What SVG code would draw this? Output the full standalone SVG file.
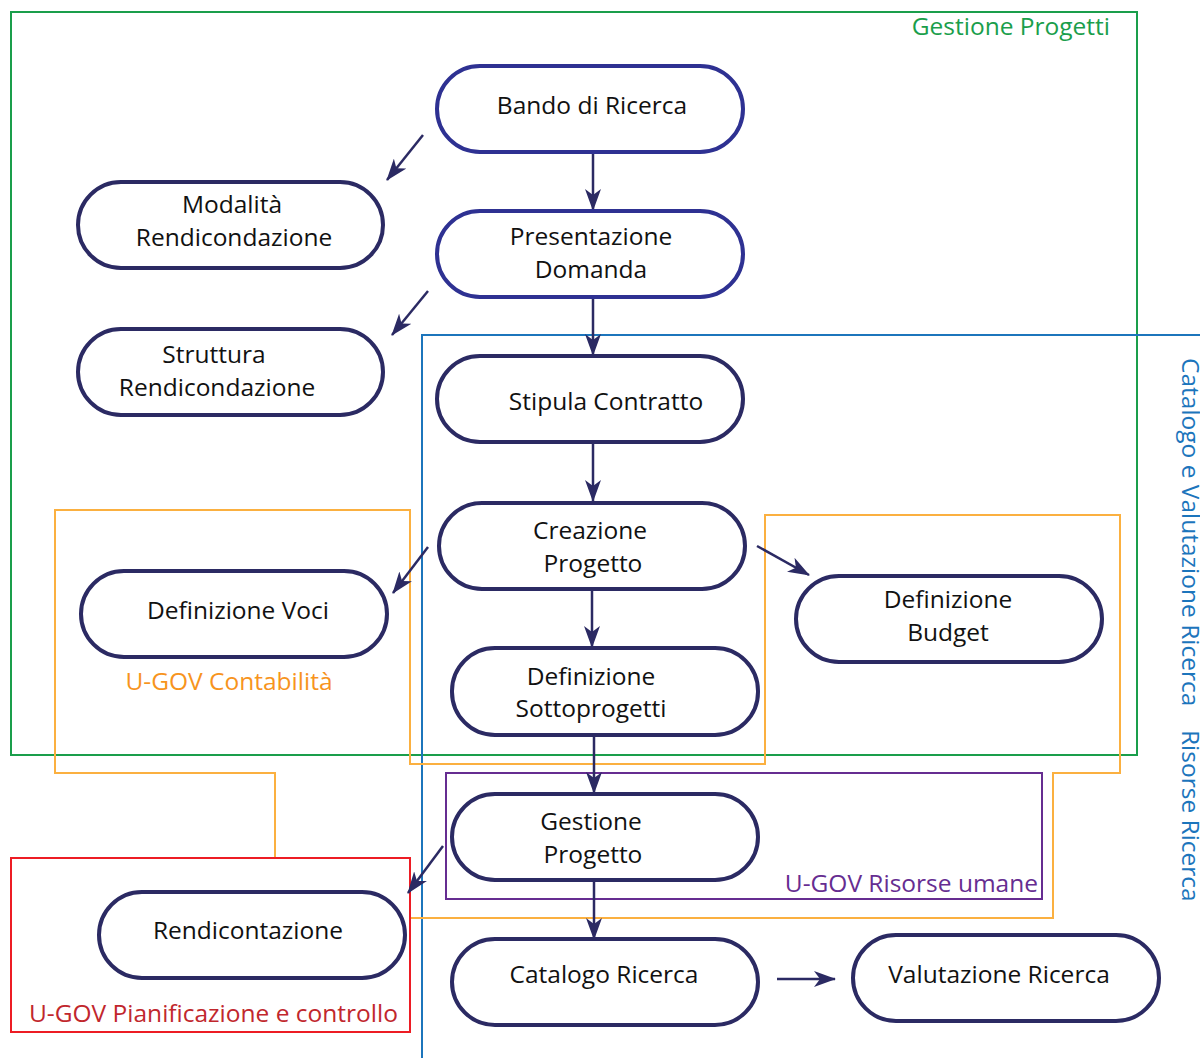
<svg xmlns="http://www.w3.org/2000/svg" width="1200" height="1058" viewBox="0 0 1200 1058">
<defs>
<marker id="ah" markerUnits="userSpaceOnUse" markerWidth="22" markerHeight="16" viewBox="0 0 22 16" refX="21" refY="8" orient="auto">
<path d="M0,0 L22,8 L0,16 L6,8 Z" fill="#2b2a63"/>
</marker>
<style>
.node{fill:#fff;stroke:#2b2a63;stroke-width:4}
.nodeb{fill:#fff;stroke:#2e3192;stroke-width:4}
.t{font-family:"Open Sans","Noto Sans",sans-serif;font-size:24.5px;fill:#111;text-anchor:middle}
.lbl{font-family:"Open Sans","Noto Sans",sans-serif;font-size:24.5px}
.c{fill:none;stroke:#2b2a63;stroke-width:2.5;marker-end:url(#ah)}
</style>
</defs>
<rect width="1200" height="1058" fill="#fff"/>
<g id="regions" fill="none">
<rect x="11" y="12" width="1126" height="743" stroke="#1a9e4b" stroke-width="2"/>
<polyline points="422,1058 422,335 1200,335" stroke="#1c75bc" stroke-width="2"/>
<polyline points="275,858 275,773 55,773 55,510 410,510 410,764 765,764 765,515 1120,515 1120,773 1053,773 1053,918 410,918" stroke="#fbb040" stroke-width="2"/>
<rect x="446" y="773" width="596" height="126" stroke="#662d91" stroke-width="2"/>
<rect x="11" y="858" width="399" height="174" stroke="#ed1c24" stroke-width="2"/>
</g>
<g id="region-labels" class="lbl">
<text x="1110" y="35" fill="#1a9e4b" text-anchor="end">Gestione Progetti</text>
<text x="229" y="690" fill="#f7941d" text-anchor="middle">U-GOV Contabilità</text>
<text x="1038" y="892" fill="#662d91" text-anchor="end">U-GOV Risorse umane</text>
<text x="29" y="1022" fill="#c1272d">U-GOV Pianificazione e controllo</text>
<text transform="translate(1182,358) rotate(90)" fill="#1c75bc">Catalogo e Valutazione Ricerca</text>
<text transform="translate(1182,730) rotate(90)" fill="#1c75bc">Risorse Ricerca</text>
</g>
<g id="connectors">
<line class="c" x1="593" y1="152" x2="593" y2="210"/>
<line class="c" x1="593" y1="297" x2="593" y2="355"/>
<line class="c" x1="593" y1="442" x2="593" y2="501"/>
<line class="c" x1="592" y1="589" x2="592" y2="647"/>
<line class="c" x1="594" y1="735" x2="594" y2="793"/>
<line class="c" x1="594" y1="880" x2="594" y2="939"/>
<line class="c" x1="777" y1="979" x2="835" y2="979"/>
<line class="c" x1="423" y1="135" x2="387" y2="180"/>
<line class="c" x1="428" y1="291" x2="392" y2="335"/>
<line class="c" x1="428" y1="547" x2="393" y2="593"/>
<line class="c" x1="757" y1="546" x2="809" y2="575"/>
<line class="c" x1="443" y1="846" x2="408" y2="893"/>
</g>
<g id="n-bando"><rect class="nodeb" x="437" y="66" width="306" height="86" rx="43"/><text class="t" x="592" y="114">Bando di Ricerca</text></g>
<g id="n-presentazione"><rect class="nodeb" x="437" y="211" width="306" height="86" rx="43"/><text class="t" x="591" y="245">Presentazione</text><text class="t" x="591" y="278">Domanda</text></g>
<g id="n-modalita"><rect class="node" x="78" y="182" width="305" height="86" rx="43"/><text class="t" x="232" y="213">Modalità</text><text class="t" x="234" y="246">Rendicondazione</text></g>
<g id="n-struttura"><rect class="node" x="78" y="329" width="305" height="86" rx="43"/><text class="t" x="214" y="363">Struttura</text><text class="t" x="217" y="396">Rendicondazione</text></g>
<g id="n-stipula"><rect class="node" x="437" y="356" width="306" height="86" rx="43"/><text class="t" x="606" y="410">Stipula Contratto</text></g>
<g id="n-creazione"><rect class="node" x="439" y="503" width="306" height="86" rx="43"/><text class="t" x="590" y="539">Creazione</text><text class="t" x="593" y="572">Progetto</text></g>
<g id="n-voci"><rect class="node" x="81" y="571" width="306" height="86" rx="43"/><text class="t" x="238" y="619">Definizione Voci</text></g>
<g id="n-budget"><rect class="node" x="796" y="576" width="306" height="86" rx="43"/><text class="t" x="948" y="608">Definizione</text><text class="t" x="948" y="641">Budget</text></g>
<g id="n-sottoprogetti"><rect class="node" x="452" y="648" width="306" height="87" rx="43"/><text class="t" x="591" y="685">Definizione</text><text class="t" x="591" y="717">Sottoprogetti</text></g>
<g id="n-gestione"><rect class="node" x="452" y="794" width="306" height="86" rx="43"/><text class="t" x="591" y="830">Gestione</text><text class="t" x="593" y="863">Progetto</text></g>
<g id="n-rendicontazione"><rect class="node" x="99" y="892" width="306" height="86" rx="43"/><text class="t" x="248" y="939">Rendicontazione</text></g>
<g id="n-catalogo"><rect class="node" x="452" y="939" width="306" height="86" rx="43"/><text class="t" x="604" y="983">Catalogo Ricerca</text></g>
<g id="n-valutazione"><rect class="node" x="853" y="935" width="306" height="86" rx="43"/><text class="t" x="999" y="983">Valutazione Ricerca</text></g>
</svg>
